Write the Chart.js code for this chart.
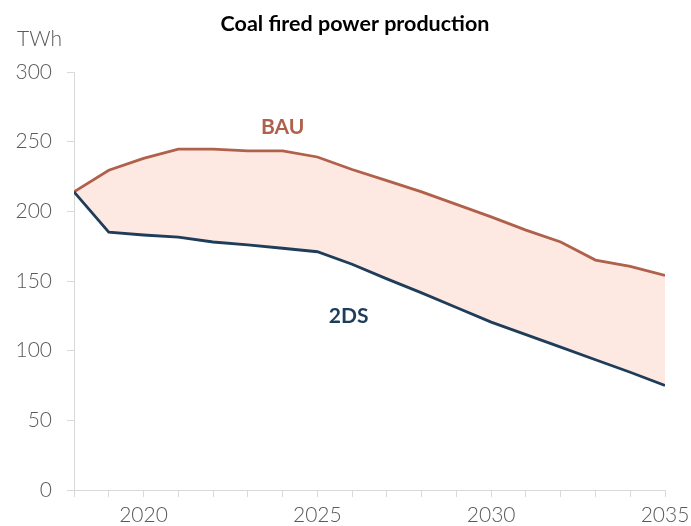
<!DOCTYPE html>
<html>
<head>
<meta charset="utf-8">
<script src="https://cdn.jsdelivr.net/npm/chart.js@4"></script>
<style>
  html, body { margin: 0; padding: 0; background: #ffffff; }
  #wrap { width: 691px; height: 526px; position: relative; }
</style>
</head>
<body>
<div id="wrap"><canvas id="c" width="691" height="526"></canvas></div>
<script>
const years = [2018, 2019, 2020, 2021, 2022, 2023, 2024, 2025, 2026, 2027, 2028, 2029, 2030, 2031, 2032, 2033, 2034, 2035];
const bau = [214, 229.5, 238, 244.6, 244.6, 243.4, 243.4, 239, 230, 222, 214, 205, 196, 186.5, 178, 165, 160.5, 154];
const twoDS = [214, 185, 183, 181.5, 178, 176, 173.5, 171, 162, 151.5, 141.5, 131, 120.5, 111.5, 102.5, 93.5, 84.5, 75];
const yTicks = [0, 50, 100, 150, 200, 250, 300];
const xTickLabels = [2020, 2025, 2030, 2035];
const seriesNames = ['BAU', '2DS'];
const titleText = 'Coal fired power production';
const unitText = 'TWh';

const FONT = 'Lato, "Open Sans", sans-serif';
const BAU_COLOR = '#b0614b';
const DS_COLOR = '#1e3d5b';
const FILL_COLOR = '#fde9e1';
const TICK_COLOR = '#5a5a5a';
const AXIS_COLOR = '#d9d9d9';

const textPlugin = {
  id: 'texts',
  afterDraw(chart) {
    const ctx = chart.ctx;
    const xs = chart.scales.x, ys = chart.scales.y;
    ctx.save();
    ctx.textAlign = 'center';
    ctx.textBaseline = 'middle';
    ctx.fillStyle = '#000000';
    ctx.font = 'bold 21.5px ' + FONT;
    ctx.fillText(titleText, 355, 24);
    ctx.fillStyle = TICK_COLOR;
    ctx.font = '300 21px ' + FONT;
    ctx.textAlign = 'left';
    ctx.fillText(unitText, 17, 39);
    ctx.textAlign = 'center';
    ctx.font = 'bold 21px ' + FONT;
    ctx.fillStyle = BAU_COLOR;
    ctx.fillText(seriesNames[0], xs.getPixelForValue(2024), ys.getPixelForValue(260.5));
    ctx.fillStyle = DS_COLOR;
    ctx.fillText(seriesNames[1], xs.getPixelForValue(2025.9), ys.getPixelForValue(125));
    ctx.restore();
  }
};

new Chart(document.getElementById('c'), {
  type: 'line',
  data: {
    datasets: [
      {
        label: seriesNames[0],
        data: years.map((y, i) => ({ x: y, y: bau[i] })),
        borderColor: BAU_COLOR,
        backgroundColor: FILL_COLOR,
        borderWidth: 2.8,
        pointRadius: 0,
        tension: 0,
        fill: '+1',
        order: 1
      },
      {
        label: seriesNames[1],
        data: years.map((y, i) => ({ x: y, y: twoDS[i] })),
        borderColor: DS_COLOR,
        borderWidth: 2.8,
        pointRadius: 0,
        tension: 0,
        fill: false,
        order: 0
      }
    ]
  },
  options: {
    responsive: false,
    animation: false,
    devicePixelRatio: 1,
    layout: { padding: { top: 72, right: 26, left: 0, bottom: 0 } },
    plugins: {
      legend: { display: false },
      tooltip: { enabled: false },
      title: { display: false }
    },
    scales: {
      x: {
        type: 'linear',
        min: years[0],
        max: years[years.length - 1],
        afterFit(s) { s.height = 36; s.paddingRight = 0; s.paddingLeft = 0; },
        afterBuildTicks(s) { s.ticks = years.map(v => ({ value: v })); },
        grid: {
          display: true,
          drawOnChartArea: false,
          drawTicks: true,
          tickLength: 7,
          color: AXIS_COLOR,
          lineWidth: 1
        },
        border: { display: true, color: AXIS_COLOR, width: 1 },
        ticks: {
          autoSkip: false,
          maxRotation: 0,
          padding: 6,
          color: TICK_COLOR,
          font: { family: FONT, size: 21, weight: '300' },
          callback: (v) => xTickLabels.includes(v) ? String(v) : ''
        }
      },
      y: {
        min: 0,
        max: 300,
        afterFit(s) { s.width = 74; },
        afterBuildTicks(s) { s.ticks = yTicks.map(v => ({ value: v })); },
        grid: {
          display: true,
          drawOnChartArea: false,
          drawTicks: true,
          tickLength: 7,
          color: AXIS_COLOR,
          lineWidth: 1
        },
        border: { display: true, color: AXIS_COLOR, width: 1 },
        ticks: {
          padding: 15,
          color: TICK_COLOR,
          font: { family: FONT, size: 21, weight: '300' },
          callback: (v) => String(v)
        }
      }
    }
  },
  plugins: [textPlugin]
});
</script>
</body>
</html>
